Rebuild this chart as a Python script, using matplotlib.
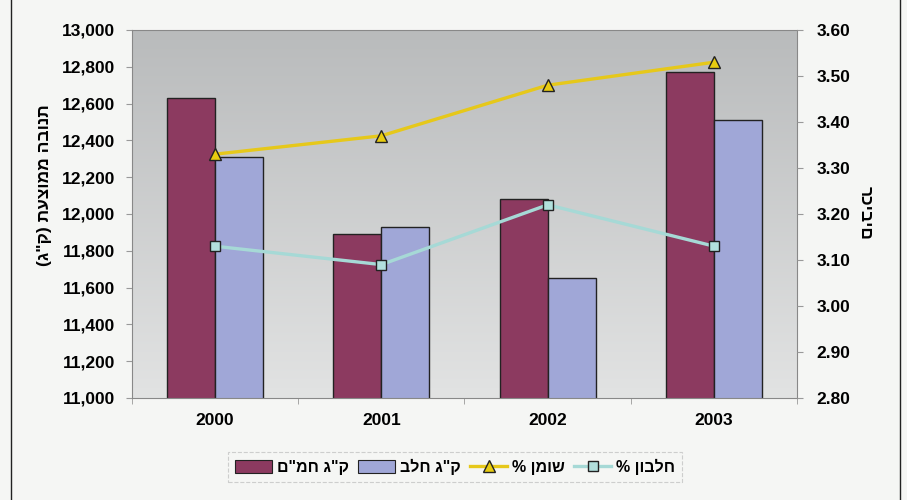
import numpy as np
import matplotlib
matplotlib.use('Agg')
import matplotlib.pyplot as plt
from matplotlib.lines import Line2D
from matplotlib.patches import Patch, Rectangle

# עברית: matplotlib לא הופך טקסט מימין לשמאל, לכן הופכים ידנית
def heb(s):
    s = s[::-1]
    return s.translate(str.maketrans('()', ')('))

plt.rcParams['font.family'] = ['Liberation Sans', 'DejaVu Sans']
plt.rcParams['font.weight'] = 'bold'

# נתונים
years = ['2000', '2001', '2002', '2003']
kg_fcm = [12630, 11890, 12080, 12770]      # ק"ג חמ"ם
kg_milk = [12310, 11930, 11650, 12510]     # ק"ג חלב
fat_pct = [3.33, 3.37, 3.48, 3.53]         # % שומן
protein_pct = [3.13, 3.09, 3.22, 3.13]     # % חלבון

left_ticks = np.arange(11000, 13001, 200)
right_ticks = np.arange(2.80, 3.601, 0.10)

c_fcm = '#8c3a60'
c_milk = '#a0a7d7'
c_fat = '#e6c81a'
c_prot = '#a6d9d6'

fig = plt.figure(figsize=(9.07, 5.00), dpi=100)
fig.patch.set_facecolor('#f5f6f4')

ax = fig.add_axes([131.7 / 907, 1 - 398 / 500, (797.3 - 131.7) / 907, (398 - 30) / 500])

# רקע אפור מדורג
grad = np.linspace(0, 1, 256).reshape(-1, 1)
ax.imshow(grad, extent=[0, 1, 0, 1], transform=ax.transAxes, aspect='auto',
          cmap=matplotlib.colors.LinearSegmentedColormap.from_list('g', ['#b9bbbc', '#e2e3e3']),
          origin='upper', zorder=0)

x = np.arange(len(years))
w = 0.288
ax.bar(x - w / 2, kg_fcm, width=w, color=c_fcm, edgecolor='#222222', linewidth=1.0, zorder=2)
ax.bar(x + w / 2, kg_milk, width=w, color=c_milk, edgecolor='#222222', linewidth=1.0, zorder=2)

ax.set_xlim(-0.5, 3.5)
ax.set_ylim(11000, 13000)
ax.set_yticks(left_ticks)
ax.set_yticklabels([f'{v:,}' for v in left_ticks], fontsize=12.5, fontweight='bold')
ax.set_xticks(x)
ax.set_xticklabels(years, fontsize=12.5, fontweight='bold')
ax.set_xticks(np.arange(-0.5, 3.6, 1.0), minor=True)
ax.tick_params(axis='x', which='major', length=0, pad=11)
ax.tick_params(axis='x', which='minor', length=4, color='#999999')
ax.tick_params(axis='y', length=4, color='#999999', pad=8)
for sp in ax.spines.values():
    sp.set_color('#888888')
    sp.set_linewidth(0.8)

ax2 = ax.twinx()
ax2.plot(x, fat_pct, color=c_fat, linewidth=2.4, marker='^', markersize=8,
         markerfacecolor='#e8cc10', markeredgecolor='#222222', markeredgewidth=1.0, zorder=3)
ax2.plot(x, protein_pct, color=c_prot, linewidth=2.4, marker='s', markersize=7.5,
         markerfacecolor='#b2e0dd', markeredgecolor='#222222', markeredgewidth=1.0, zorder=3)
ax2.set_ylim(2.80, 3.60)
ax2.set_yticks(right_ticks)
ax2.set_yticklabels([f'{v:.2f}' for v in right_ticks], fontsize=12.5, fontweight='bold')
ax2.tick_params(axis='y', length=4, color='#999999', pad=10)
for sp in ax2.spines.values():
    sp.set_visible(False)

# כותרות צירים
fig.text(45 / 907, 1 - 185 / 500, heb('תנובה ממוצעת (ק"ג)'), rotation=90,
         ha='center', va='center', fontsize=12.5, fontweight='bold')
fig.text(865 / 907, 1 - 213 / 500, 'רכיבים', rotation=270,
         ha='center', va='center', fontsize=12.5, fontweight='bold')

# מקרא
handles = [
    Patch(facecolor=c_fcm, edgecolor='#222222', linewidth=0.8),
    Patch(facecolor=c_milk, edgecolor='#222222', linewidth=0.8),
    Line2D([], [], color=c_fat, linewidth=2.4, marker='^', markersize=8,
           markerfacecolor='#e8cc10', markeredgecolor='#222222'),
    Line2D([], [], color=c_prot, linewidth=2.4, marker='s', markersize=7.5,
           markerfacecolor='#b2e0dd', markeredgecolor='#222222'),
]
labels = [heb('ק"ג חמ"ם'), heb('ק"ג חלב'), heb('שומן %'), heb('חלבון %')]
leg = fig.legend(handles, labels, loc='center', bbox_to_anchor=(455 / 907, 1 - 467 / 500),
                 ncol=4, frameon=True, fontsize=11.5, handlelength=2.3, handleheight=0.9,
                 columnspacing=0.6, handletextpad=0.3, borderpad=0.45)
leg.get_frame().set_facecolor('none')
leg.get_frame().set_edgecolor('#c4c4c4')
leg.get_frame().set_linestyle('--')
leg.get_frame().set_linewidth(0.8)
leg.get_frame().set_boxstyle('square', pad=0)

# מסגרת חיצונית
fig.patches.append(Rectangle((11 / 907, -0.02), (900 - 11) / 907, 1.04, transform=fig.transFigure,
                             fill=False, edgecolor='#222222', linewidth=1.0))

fig.savefig('out.png', dpi=100, facecolor=fig.get_facecolor())
